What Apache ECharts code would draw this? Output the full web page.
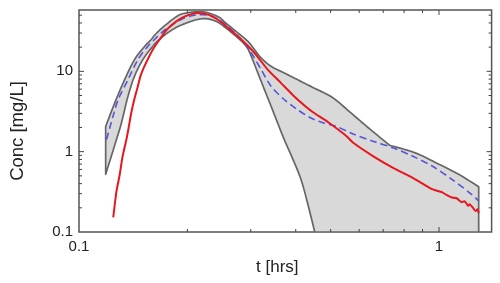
<!DOCTYPE html>
<html><head><meta charset="utf-8">
<script src="https://cdn.jsdelivr.net/npm/echarts@6/dist/echarts.min.js"></script>
<style>html,body{margin:0;padding:0;background:#fff}#c{width:500px;height:283px}</style>
</head><body><div id="c"></div>
<script>
// ---- data: [t (hrs), concentration (mg/L)] ----
const upperBound = [
  [0.1186,2.06],[0.1257,4.05],[0.1339,7.89],[0.1426,13.97],[0.1519,20.25],[0.1585,24.74],
  [0.1636,29.36],[0.1742,37.97],[0.1891,49.81],[0.2002,53.50],[0.2105,55.05],[0.2200,55.05],
  [0.2285,53.50],[0.2388,49.81],[0.2465,46.37],[0.2544,40.78],[0.2766,29.95],[0.2947,23.57],
  [0.3074,18.59],[0.3207,14.67],[0.3416,11.54],[0.3715,9.55],[0.4040,7.89],[0.4489,6.22],
  [0.5060,4.72],[0.5705,3.01],[0.6350,2.00],[0.7295,1.20],[0.8596,0.966],[1.0,0.696],
  [1.134,0.523],[1.289,0.366]
];
const upperKinkIndex = 27; // sharp corner of the upper bound near t=0.73
const lowerBound = [
  [0.1186,0.523],[0.1271,1.42],[0.1312,2.29],[0.1368,4.90],[0.1426,8.67],[0.1504,13.97],
  [0.1602,20.42],[0.1670,24.74],[0.1764,30.21],[0.1879,35.86],[0.2014,40.78],[0.2145,44.43],
  [0.2271,45.07],[0.2419,41.37],[0.2544,35.34],[0.2766,25.96],[0.2917,20.42],[0.3010,15.35],
  [0.3139,9.55],[0.3274,5.93],[0.3416,3.68],[0.3561,2.29],[0.3715,1.42],[0.3907,0.850],
  [0.4135,0.453],[0.4322,0.222],[0.4517,0.1]
];
const medianPred = [
  [0.1193,1.42],[0.1218,2.00],[0.1247,2.90],[0.1285,4.46],[0.1368,7.89],[0.1457,13.97],
  [0.1552,20.42],[0.1618,24.74],[0.1706,31.08],[0.1817,37.97],[0.1927,44.43],[0.2040,48.69],
  [0.2132,50.53],[0.2214,50.82],[0.2314,49.11],[0.2434,44.43],[0.2576,36.90],[0.2709,30.21],
  [0.2826,24.74],[0.3010,16.92],[0.3207,10.50],[0.3416,6.51],[0.3715,4.46],[0.4040,3.35],
  [0.4396,2.64],[0.4781,2.28],[0.5189,2.06],[0.5777,1.66],[0.6554,1.35],[0.7434,1.12],
  [0.8435,0.882],[0.9568,0.663],[1.086,0.453],[1.231,0.295],[1.289,0.244]
];
const observed = [
  [0.1245,0.152],[0.1271,0.322],[0.1298,0.523],[0.1320,0.850],[0.1354,1.42],[0.1371,1.89],
  [0.1397,3.05],[0.1424,4.46],[0.1457,6.51],[0.1483,8.85],[0.1519,11.54],[0.1565,15.22],
  [0.1615,19.68],[0.1688,26.18],[0.1742,31.98],[0.1817,38.30],[0.1891,43.80],[0.1977,48.69],
  [0.2053,51.55],[0.2132,53.20],[0.2228,52.29],[0.2339,48.69],[0.2434,43.80],[0.2544,37.43],
  [0.2826,24.74],[0.3074,16.92],[0.3343,10.50],[0.3638,7.18],[0.3957,4.90],[0.4303,3.52],
  [0.4489,3.05],[0.4934,2.31],[0.5538,1.56],[0.5777,1.29],[0.6554,0.882],[0.7434,0.633],
  [0.8435,0.476],[0.9568,0.341],[1.019,0.313],[1.052,0.287],[1.086,0.269],[1.120,0.263],
  [1.156,0.235],[1.178,0.242],[1.206,0.211],[1.216,0.222],[1.239,0.204],[1.263,0.182],
  [1.279,0.192],[1.289,0.172]
];
const xMajorTicks = [1];
const xMinorTicks = [0.2,0.3,0.4,0.5,0.6,0.7,0.8,0.9];
const yMajorTicks = [1,10];
const yMinorTicks = [0.2,0.3,0.4,0.5,0.6,0.7,0.8,0.9,2,3,4,5,6,7,8,9,20,30,40,50];
const X_MIN = 0.1, X_MAX = 1.4, Y_MIN = 0.1, Y_MAX = 58;

// Catmull-Rom sampling in pixel space (after the library maps values to pixels)
function smoothPixels(px) {
  const out = [px[0]];
  const n = px.length;
  for (let i = 0; i < n - 1; i++) {
    const p0 = px[Math.max(i - 1, 0)], p1 = px[i], p2 = px[i + 1], p3 = px[Math.min(i + 2, n - 1)];
    const c1 = [p1[0] + (p2[0] - p0[0]) / 6, p1[1] + (p2[1] - p0[1]) / 6];
    const c2 = [p2[0] - (p3[0] - p1[0]) / 6, p2[1] - (p3[1] - p1[1]) / 6];
    for (let k = 1; k <= 10; k++) {
      const t = k / 10, u = 1 - t;
      out.push([
        u*u*u*p1[0] + 3*u*u*t*c1[0] + 3*u*t*t*c2[0] + t*t*t*p2[0],
        u*u*u*p1[1] + 3*u*u*t*c1[1] + 3*u*t*t*c2[1] + t*t*t*p2[1]
      ]);
    }
  }
  return out;
}

const chart = echarts.init(document.getElementById('c'), null, {renderer:'canvas'});
const txt = '#222';
const fmt = v => (Math.abs(v-0.1) < 1e-9 ? '0.1' : String(Math.round(v)));
chart.setOption({
  animation: false,
  grid: {left:72, right:8.4, top:10, bottom:51, show:true, borderColor:'#555', borderWidth:1.5, backgroundColor:'transparent'},
  xAxis: {
    type:'log', logBase:10, min:X_MIN, max:X_MAX,
    name:'t [hrs]', nameLocation:'middle', nameGap:20,
    nameTextStyle:{fontFamily:'Liberation Sans', fontSize:17, color:txt, padding:[0,16,0,0], verticalAlign:'top'},
    axisLine:{show:false}, axisTick:{show:false}, splitLine:{show:false},
    axisLabel:{fontFamily:'Liberation Sans', fontSize:15, color:txt, margin:7, showMaxLabel:false, formatter: fmt}
  },
  yAxis: {
    type:'log', logBase:10, min:Y_MIN, max:Y_MAX,
    name:'Conc [mg/L]', nameLocation:'middle', nameGap:52,
    nameTextStyle:{fontFamily:'Liberation Sans', fontSize:18.5, color:txt, padding:[0,20,0,0]},
    axisLine:{show:false}, axisTick:{show:false}, splitLine:{show:false},
    axisLabel:{fontFamily:'Liberation Sans', fontSize:15, color:txt, margin:6, showMaxLabel:false, formatter: fmt}
  },
  series: [
    {
      type:'custom', z:1, clip:true, silent:true,
      data:[[0.5,1]],
      renderItem: (params, api) => {
        const up = upperBound.map(p => api.coord(p));
        const upA = smoothPixels(up.slice(0, upperKinkIndex + 1));
        const upB = smoothPixels(up.slice(upperKinkIndex));
        const lo = smoothPixels(lowerBound.map(p => api.coord(p)));
        const corner = api.coord([upperBound[upperBound.length-1][0], Y_MIN]);
        const pts = upA.concat(upB.slice(1), [corner], lo.slice().reverse());
        return {
          type:'polygon',
          shape:{points: pts},
          style:{fill:'#d9d9d9', stroke:'#666', lineWidth:1.7, lineJoin:'round'}
        };
      }
    },
    {
      type:'line', z:3, data: medianPred, showSymbol:false, smooth:0.3,
      lineStyle:{color:'#5555d8', width:1.6, type:[7,4]}
    },
    {
      type:'line', z:4, data: observed, showSymbol:false, smooth:0.2,
      lineStyle:{color:'#e8161c', width:2}
    },
    {
      type:'custom', z:5, clip:false, silent:true,
      data:[[0.5,1]],
      renderItem: (params, api) => {
        const children = [];
        const add = (a,b) => children.push({type:'line', shape:{x1:a[0],y1:a[1],x2:b[0],y2:b[1]}, style:{stroke:'#444', lineWidth:1}});
        const xt = (v,len) => { const b = api.coord([v,Y_MIN]), t = api.coord([v,Y_MAX]);
          add(b,[b[0],b[1]-len]); add(t,[t[0],t[1]+len]); };
        const yt = (v,len) => { const l = api.coord([X_MIN,v]), r = api.coord([X_MAX,v]);
          add(l,[l[0]+len,l[1]]); add(r,[r[0]-len,r[1]]); };
        xMajorTicks.forEach(v => xt(v,5));
        xMinorTicks.forEach(v => xt(v,3));
        yMajorTicks.forEach(v => yt(v,5));
        yMinorTicks.forEach(v => yt(v,3));
        return {type:'group', children};
      }
    }
  ]
});
</script></body></html>
